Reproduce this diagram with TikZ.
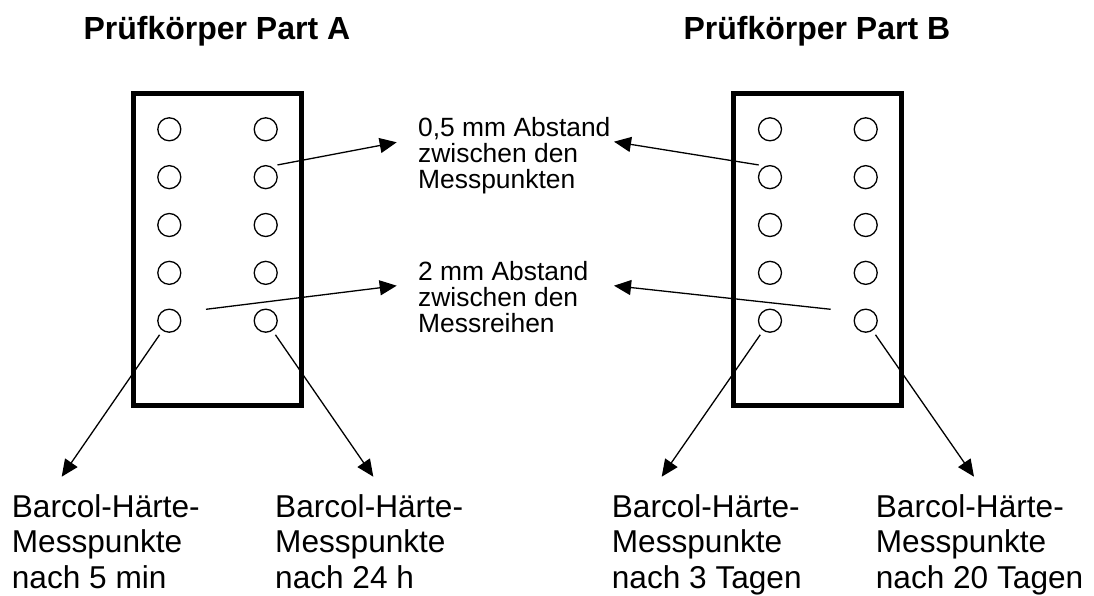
\documentclass[tikz,border=0pt]{standalone}
\usepackage{fontspec}
\setmainfont{Liberation Sans}
\usetikzlibrary{arrows.meta,calc}

\begin{document}
\begin{tikzpicture}[
  x=1pt,
  y=-1pt,
  probe/.style={
    draw,
    line width=5pt,
    minimum width=168pt,
    minimum height=311.5pt,
    inner sep=0pt
  },
  punkt/.style={
    draw,
    circle,
    line width=1.3pt,
    minimum size=23pt,
    inner sep=0pt
  },
  title/.style={
    font=\bfseries\fontsize{32}{38}\selectfont,
    inner sep=0pt,
    anchor=base west
  },
  note/.style={
    font=\fontsize{26.4}{26}\selectfont,
    align=left,
    inner sep=0pt,
    anchor=north west
  },
  result/.style={
    font=\fontsize{31.6}{35.8}\selectfont,
    align=left,
    inner sep=0pt,
    anchor=north west
  },
  pointer/.style={
    -{Triangle[length=17pt, width=15pt]},
    line width=1.3pt
  }
  ]
  \useasboundingbox (0,0) rectangle (1094,596);

  \node [title] (TitleA) at (83.3, 39.3) {Prüfkörper Part A};
  \node [title] (TitleB) at (683.3, 39.3) {Prüfkörper Part B};

  \node [probe] (PartA) at (217.5, 249.25) {};
  \node [probe] (PartB) at (817, 249.25) {};

  \foreach \r in {1,...,5} {
    \foreach \c/\xa/\xb in {1/169.3/770, 2/265.7/865.7} {
      \node [punkt] (A-\r-\c) at (\xa, {129.3+47.85*(\r-1)}) {};
      \node [punkt] (B-\r-\c) at (\xb, {129.3+47.85*(\r-1)}) {};
    }
  }

  \node [note] (Punkte) at (418, 117) {0,5 mm Abstand\\zwischen den\\Messpunkten};
  \node [note] (Reihen) at (418, 261) {2 mm Abstand\\zwischen den\\Messreihen};

  \node [result] (Min5) at (11.7, 494) {Barcol-Härte-\\Messpunkte\\nach 5 min};
  \node [result] (Std24) at (275, 494) {Barcol-Härte-\\Messpunkte\\nach 24 h};
  \node [result] (Tage3) at (611.7, 494) {Barcol-Härte-\\Messpunkte\\nach 3 Tagen};
  \node [result] (Tage20) at (875.7, 494) {Barcol-Härte-\\Messpunkte\\nach 20 Tagen};

  \coordinate (PunkteA) at ($(A-2-2)+(11.8,-12.2)$);
  \coordinate (ReihenA) at ($(A-5-1)+(36.7,-11.4)$);
  \coordinate (PunkteB) at ($(B-2-1)+(-11.3,-12.2)$);
  \coordinate (ReihenB) at ($(B-5-2)+(-35,-11.4)$);
  \coordinate (PunkteL) at (396.7, 142.3);
  \coordinate (ReihenL) at (396.7, 285.7);
  \coordinate (PunkteR) at (614, 141.7);
  \coordinate (ReihenR) at (614, 285.7);

  \coordinate (Min5Tip) at (61.7, 476.7);
  \coordinate (Std24Tip) at (373.3, 476.7);
  \coordinate (Tage3Tip) at (661.7, 476.7);
  \coordinate (Tage20Tip) at (974, 476.7);

  \draw [pointer] (PunkteA) -- (PunkteL);
  \draw [pointer] (ReihenA) -- (ReihenL);
  \draw [pointer] (PunkteB) -- (PunkteR);
  \draw [pointer] (ReihenB) -- (ReihenR);

  \draw [pointer, shorten <=5pt] (A-5-1) -- (Min5Tip);
  \draw [pointer, shorten <=5pt] (A-5-2) -- (Std24Tip);
  \draw [pointer, shorten <=5pt] (B-5-1) -- (Tage3Tip);
  \draw [pointer, shorten <=5pt] (B-5-2) -- (Tage20Tip);
\end{tikzpicture}
\end{document}
